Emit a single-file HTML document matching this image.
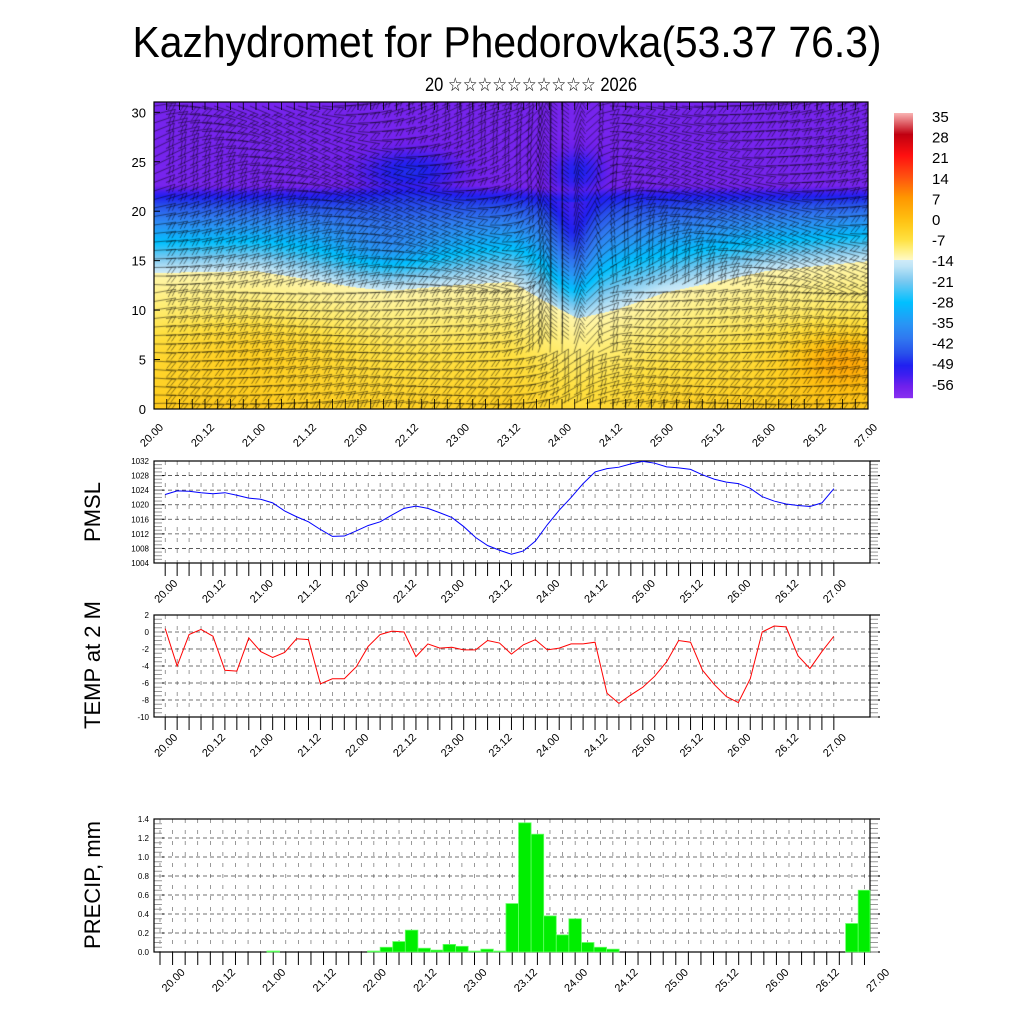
<!DOCTYPE html>
<html><head><meta charset="utf-8"><title>Kazhydromet for Phedorovka</title>
<style>
body{margin:0;width:1024px;height:1024px;background:#fff;position:relative;overflow:hidden;font-family:"Liberation Sans",sans-serif}
#field{position:absolute;left:154px;top:102px}
#s{position:absolute;left:0;top:0}
</style></head>
<body>
<canvas id="field" width="714" height="307"></canvas>
<svg id="s" width="1024" height="1024" xmlns="http://www.w3.org/2000/svg">
<text x="507" y="57" font-size="44" text-anchor="middle" textLength="749" lengthAdjust="spacingAndGlyphs" font-family="Liberation Sans, sans-serif">Kazhydromet for Phedorovka(53.37 76.3)</text>
<text x="531" y="91" font-size="19" text-anchor="middle" textLength="212" lengthAdjust="spacingAndGlyphs" font-family="Liberation Sans, DejaVu Sans, sans-serif">20 ☆☆☆☆☆☆☆☆☆☆ 2026</text>
</svg>
<script>
// ---------- data ----------
const pmslSeries=[1022.8,1023.8,1023.7,1023.3,1023.0,1023.3,1022.6,1021.8,1021.5,1020.5,1018.3,1016.7,1015.3,1013.2,1011.3,1011.4,1012.8,1014.3,1015.3,1017.2,1019.0,1019.6,1019.0,1017.8,1016.5,1014.0,1011.0,1008.8,1007.5,1006.4,1007.3,1010.0,1014.5,1018.5,1022.0,1025.8,1029.0,1029.9,1030.3,1031.2,1031.9,1031.4,1030.4,1030.1,1029.7,1028.2,1027.0,1026.2,1025.8,1024.5,1022.2,1021.0,1020.2,1019.8,1019.5,1020.5,1024.4];
const tempSeries=[0.4,-4.0,-0.3,0.3,-0.5,-4.5,-4.6,-0.7,-2.3,-3.0,-2.4,-0.8,-0.9,-6.1,-5.5,-5.5,-4.1,-1.7,-0.3,0.1,0.0,-2.9,-1.4,-1.9,-1.8,-2.1,-2.1,-1.0,-1.3,-2.6,-1.5,-0.9,-2.1,-1.9,-1.4,-1.4,-1.2,-7.2,-8.4,-7.4,-6.5,-5.2,-3.5,-1.0,-1.2,-4.5,-6.2,-7.6,-8.3,-5.5,0.0,0.7,0.6,-2.8,-4.3,-2.3,-0.5];
const precipSeries=[0,0,0,0,0,0,0,0,0,0.01,0,0,0,0,0,0,0,0.01,0.05,0.11,0.23,0.04,0.02,0.08,0.06,0.01,0.03,0.01,0.51,1.36,1.24,0.38,0.18,0.35,0.10,0.05,0.03,0,0,0,0,0,0,0,0,0,0,0,0,0,0,0,0,0,0,0.30,0.65];
const dayLabels=["20.00","20.12","21.00","21.12","22.00","22.12","23.00","23.12","24.00","24.12","25.00","25.12","26.00","26.12","27.00"];
const pmslTicks=[1004,1008,1012,1016,1020,1024,1028,1032];
const tempTicks=[-10,-8,-6,-4,-2,0,2];
const precipTicks=["0.0","0.2","0.4","0.6","0.8","1.0","1.2","1.4"];
const heightTicks=[0,5,10,15,20,25,30];
const cbarLabels=[35,28,21,14,7,0,-7,-14,-21,-28,-35,-42,-49,-56];
const bndT=[0,1,2,2.3,3,3.5,3.85,4.15,4.5,5,6,7];
const bndH=[13.8,14,12.3,12.0,12.6,12.9,10.8,9.2,10.0,11.8,14,15];

const NS="http://www.w3.org/2000/svg";
const svg=document.getElementById('s');
function mk(tag,attrs,parent){const e=document.createElementNS(NS,tag);for(const k in attrs)e.setAttribute(k,attrs[k]);(parent||svg).appendChild(e);return e;}

const cstops=[[-60,[138,48,240]],[-56,[112,32,236]],[-52,[60,30,240]],[-49,[32,32,240]],[-45,[40,80,235]],[-40,[48,120,240]],[-35,[40,150,245]],[-28,[0,192,255]],[-21,[120,200,240]],[-16,[190,228,246]],[-14,[205,234,248]],[-13.9,[255,250,200]],[-10,[255,238,120]],[-7,[255,224,64]],[-3,[255,206,32]],[0,[255,190,16]],[7,[255,150,0]],[14,[255,80,16]],[21,[255,16,16]],[28,[192,0,16]],[35,[248,176,176]]];
function cmap(T){if(T<=cstops[0][0])return cstops[0][1];for(let i=1;i<cstops.length;i++){if(T<=cstops[i][0]){const a=cstops[i-1],b=cstops[i];const f=(T-a[0])/(b[0]-a[0]);return [0,1,2].map(k=>a[1][k]+(b[1][k]-a[1][k])*f);}}return cstops[cstops.length-1][1];}
function interp(xs,ys,x){if(x<=xs[0])return ys[0];for(let i=1;i<xs.length;i++)if(x<=xs[i]){const f=(x-xs[i-1])/(xs[i]-xs[i-1]);return ys[i-1]+(ys[i]-ys[i-1])*f;}return ys[ys.length-1];}
function field(t,h){
  const b=interp(bndT,bndH,t);
  let T;
  if(h<b){
    T=-12.5+(b-h)*0.75; if(T>-2)T=-2-(T+2)*0.2;
    T+=9*Math.exp(-((t-6.75)*(t-6.75)/0.25+(h-5)*(h-5)/8));
    T+=3*Math.exp(-((t-1)*(t-1)/1+(h-6)*(h-6)/10));
  }else{
    const p=21.5-0.5*Math.exp(-(t-4.1)*(t-4.1)/0.1);
    if(h<p){T=-14-(h-b)/(p-b)*35;}
    else{T=-49-(h-p)*7; if(T<-57)T=-57;}
    T+=-10*Math.exp(-((t-4.1)*(t-4.1)/0.05+(h-16)*(h-16)/30))*(h<p?1:0);
    T+=9*Math.exp(-((t-2.5)*(t-2.5)/0.2+(h-24)*(h-24)/4));
    T+=8*Math.exp(-((t-4.15)*(t-4.15)/0.06+(h-24)*(h-24)/4));
    T+=-6*Math.exp(-((t-2.3)*(t-2.3)/0.3+(h-16)*(h-16)/6));
  }
  return T;
}
const cv=document.getElementById('field');const ctx=cv.getContext('2d');
const img=ctx.createImageData(714,307);
for(let py=0;py<307;py++){const h=(307-py)/9.89;for(let px=0;px<714;px++){const t=px/714*7;const c=cmap(field(t,h));const o=(py*714+px)*4;img.data[o]=c[0];img.data[o+1]=c[1];img.data[o+2]=c[2];img.data[o+3]=255;}}
ctx.putImageData(img,0,0);
function windAngle(t,h){
  let a=0.12*Math.sin(t*2.3+h*0.4)-0.05;
  const v=Math.exp(-((t-3.95)*(t-3.95))/0.12)*(h>5?1:0.3);
  a=a*(1-v)+(-Math.PI/2)*v;
  if(h>12) a+=0.35*Math.sin(t*1.7+h*0.2)*(1-v);
  return a;
}
ctx.strokeStyle='rgba(0,0,0,0.6)';ctx.lineWidth=0.8;
for(let gx=0;gx<=714;gx+=12){for(let gy=4;gy<307;gy+=8.5){
  const t=gx/714*7,h=(307-gy)/9.89;const a=windAngle(t,h);
  const L=22,dx=Math.cos(a),dy=Math.sin(a);
  const x1=gx+dx*L,y1=gy+dy*L;
  ctx.beginPath();ctx.moveTo(gx,gy);ctx.lineTo(x1,y1);
  for(let k=0;k<2;k++){const bx=x1-dx*k*4,by=y1-dy*k*4;const ba=a+2.2;ctx.moveTo(bx,by);ctx.lineTo(bx+Math.cos(ba)*8,by+Math.sin(ba)*8);}
  ctx.stroke();
}}
const topG=mk('g',{});


const frame=mk('rect',{x:154,y:102,width:714,height:307,fill:'none',stroke:'#000','stroke-width':1.2},topG);


function hY(h){return 409-h*9.89;}
heightTicks.forEach(h=>{
  const tl=mk('text',{x:146,y:hY(h)+5,'font-size':13,'text-anchor':'end'},topG);tl.textContent=h;
  
  
  mk('line',{x1:154,x2:160,y1:hY(h),y2:hY(h),stroke:'#000'},topG);
});
for(let i=0;i<=56;i++){const x=154+i*714/56;mk('line',{x1:x,x2:x,y1:409,y2:399,stroke:'#000','stroke-width':0.8},topG);mk('line',{x1:x,x2:x,y1:102,y2:110,stroke:'#000','stroke-width':0.8},topG);}
dayLabels.forEach((d,i)=>{const x=154+i*714/14;const tl=mk('text',{x:0,y:0,'font-size':11,'text-anchor':'end',transform:`translate(${x+10},${428}) rotate(-45)`},topG);tl.textContent=d;
  
  });
const cb=mk('g',{});


for(let y=113;y<398;y++){const T=35-(y-113)/(398-113)*(35+60);const c=cmap(T);mk('rect',{x:894,y:y,width:19,height:1.2,fill:`rgb(${c.map(Math.round).join(',')})`},cb);}
cbarLabels.forEach((v,i)=>{const tl=mk('text',{x:932,y:122+i*20.6,'font-size':15},cb);tl.textContent=v;
  
  });

function panel(name,box,ymin,ymax,yTicks,yTickText,title,titleY,xStart,xStep,labelOffset){
  const g=mk('g',{});
  
  
  const yS=v=>box.b-(v-ymin)/(ymax-ymin)*(box.b-box.t);
  for(let i=0;i<=56;i++){const x=xStart+i*xStep;if(x>box.l&&x<box.r)mk('line',{x1:x,x2:x,y1:box.t,y2:box.b,stroke:'#555','stroke-width':0.6,'stroke-dasharray':'4,7'},g);}
  yTicks.forEach((v,i)=>{const y=yS(v);if(i>0&&i<yTicks.length-1)mk('line',{x1:box.l,x2:box.r,y1:y,y2:y,stroke:'#444','stroke-width':0.8,'stroke-dasharray':'4,3'},g);
    const tl=mk('text',{x:box.l-5,y:y+3,'font-size':8,'text-anchor':'end'},g);tl.textContent=yTickText[i];
    
    
    mk('line',{x1:box.r,x2:box.r+10,y1:y,y2:y,stroke:'#000','stroke-width':1.2},g);
    mk('line',{x1:box.l,x2:box.l+10,y1:y,y2:y,stroke:'#000','stroke-width':1},g);
  });
  for(let k=0;k<(yTicks.length-1)*4;k++){const y=box.b-(k/((yTicks.length-1)*4))*(box.b-box.t);mk('line',{x1:box.l,x2:box.l+8,y1:y,y2:y,stroke:'#999','stroke-width':1},g);mk('line',{x1:box.r,x2:box.r+8,y1:y,y2:y,stroke:'#999','stroke-width':1},g);}
  for(let i=0;i<=56;i++){const x=xStart+i*xStep;mk('line',{x1:x,x2:x,y1:box.b,y2:box.b+13,stroke:'#000','stroke-width':1},g);}
  dayLabels.forEach((d,i)=>{const x=xStart+(i*4+labelOffset)*xStep;const tl=mk('text',{x:0,y:0,'font-size':11,'text-anchor':'end',transform:`translate(${x+13},${box.b+21}) rotate(-45)`},g);tl.textContent=d;
    
    });
  const fr=mk('rect',{x:box.l,y:box.t,width:box.r-box.l,height:box.b-box.t,fill:'none',stroke:'#000','stroke-width':1.2},g);
  
  
  const tt=mk('text',{x:0,y:0,'font-size':22,'text-anchor':'middle',transform:`translate(100,${titleY}) rotate(-90)`},g);tt.textContent=title;
  
  
  return {g,yS};
}
const xS=i=>165.2+i*11.94;
const p1=panel('pmsl',{l:154,r:870,t:461,b:563},1004,1032,pmslTicks,pmslTicks.map(String),'PMSL',512,165.2,11.94,0);
const pl=mk('polyline',{points:pmslSeries.map((v,i)=>xS(i)+','+p1.yS(v)).join(' '),fill:'none',stroke:'#0000ff','stroke-width':1},p1.g);


const p2=panel('temp',{l:154,r:870,t:615,b:717},-10,2,tempTicks,tempTicks.map(String),'TEMP at 2 M',665,165.2,11.94,0);
const tlLine=mk('polyline',{points:tempSeries.map((v,i)=>xS(i)+','+p2.yS(v)).join(' '),fill:'none',stroke:'#ff0000','stroke-width':1},p2.g);


const pxStart=160,pxStep=12.58;
const p3=panel('precip',{l:154,r:870,t:819,b:952},0,1.4,[0,0.2,0.4,0.6,0.8,1.0,1.2,1.4],precipTicks,'PRECIP, mm',885,pxStart,pxStep,1);
precipSeries.forEach((v,i)=>{if(v<=0)return;const x=pxStart+i*pxStep;const y=p3.yS(v);
  const r=mk('rect',{x:Math.max(154,x-pxStep/2),y:y,width:Math.min(870,x+pxStep/2)-Math.max(154,x-pxStep/2),height:952-y,fill:'#00ee00',stroke:'#66ff66','stroke-width':0.8},p3.g);
  
  
});
</script>
</body></html>
